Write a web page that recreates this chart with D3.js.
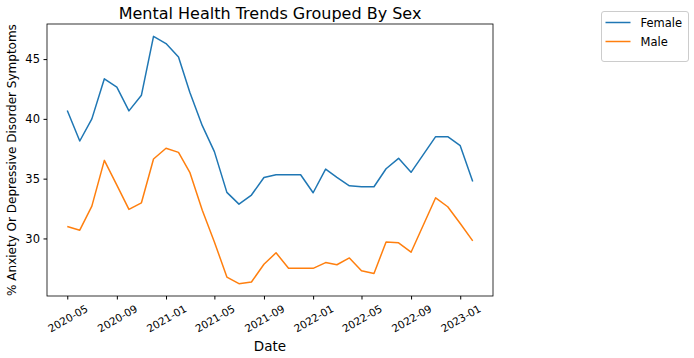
<!DOCTYPE html>
<html>
<head>
<meta charset="utf-8">
<script src="https://cdn.jsdelivr.net/npm/d3@7"></script>
<style>
  body { margin: 0; background: #fff; }
  text { font-family: "DejaVu Sans", sans-serif; fill: #000; }
</style>
</head>
<body>
<div class="canvas"></div>
<script>
// monthly survey points (Oct 2022 missing in the source)
const dates = [
  '2020-05-01', '2020-06-01', '2020-07-01', '2020-08-01', '2020-09-01', '2020-10-01',
  '2020-11-01', '2020-12-01', '2021-01-01', '2021-02-01', '2021-03-01', '2021-04-01',
  '2021-05-01', '2021-06-01', '2021-07-01', '2021-08-01', '2021-09-01', '2021-10-01',
  '2021-11-01', '2021-12-01', '2022-01-01', '2022-02-01', '2022-03-01', '2022-04-01',
  '2022-05-01', '2022-06-01', '2022-07-01', '2022-08-01', '2022-09-01', '2022-11-01',
  '2022-12-01', '2023-01-01', '2023-02-01'
];

const female = [
  40.7, 38.15, 40.0, 43.35, 42.65, 40.67, 41.98, 46.9, 46.3, 45.17, 42.23, 39.43,
  37.26, 33.85, 32.87, 33.63, 35.1, 35.33, 35.33, 35.33, 33.82, 35.8, 35.1, 34.4,
  34.32, 34.32, 35.83, 36.7, 35.53, 38.51, 38.51, 37.76, 34.77
];

const male = [
  31.0, 30.69, 32.7, 36.53, 34.46, 32.43, 32.98, 36.64, 37.54, 37.2, 35.53, 32.35,
  29.71, 26.77, 26.22, 26.36, 27.84, 28.8, 27.5, 27.5, 27.5, 27.98, 27.8, 28.37,
  27.3, 27.06, 29.71, 29.63, 28.85, 33.4, 32.65, 31.25, 29.8
];

const seriesNames = ['Female', 'Male'];
const colors = ['#1f77b4', '#ff7f0e'];
const yTicks = [30, 35, 40, 45];
const xTicks = ['2020-05-01', '2020-09-01', '2021-01-01', '2021-05-01', '2021-09-01',
  '2022-01-01', '2022-05-01', '2022-09-01', '2023-01-01'];

const parse = d3.timeParse('%Y-%m-%d');
const series = [female, male].map((vals, i) => ({
  name: seriesNames[i],
  color: colors[i],
  points: vals.map((v, j) => ({ date: parse(dates[j]), value: v }))
}));

const width = 694, height = 358;
const margin = { top: 24, right: 201, bottom: 62, left: 47 };
const innerW = width - margin.left - margin.right;
const innerH = height - margin.top - margin.bottom;

const svg = d3.select('.canvas').append('svg').attr('width', width).attr('height', height);

// domains padded by 5% like matplotlib
const tExt = d3.extent(dates, parse);
const tPad = (tExt[1] - tExt[0]) * 0.05;
const allVals = female.concat(male);
const vExt = d3.extent(allVals);
const vPad = (vExt[1] - vExt[0]) * 0.05;

const x = d3.scaleTime()
  .domain([new Date(+tExt[0] - tPad), new Date(+tExt[1] + tPad)])
  .range([0, innerW]);
const y = d3.scaleLinear()
  .domain([vExt[0] - vPad, vExt[1] + vPad])
  .range([innerH, 0]);

const g = svg.append('g').attr('transform', `translate(${margin.left},${margin.top})`);

// lines
const line = d3.line().x(d => x(d.date)).y(d => y(d.value));
series.forEach(s => {
  g.append('path')
    .datum(s.points)
    .attr('fill', 'none')
    .attr('stroke', s.color)
    .attr('stroke-width', 1.5)
    .attr('stroke-linejoin', 'round')
    .attr('d', line);
});

// y axis
const yAxis = g.append('g')
  .call(d3.axisLeft(y).tickValues(yTicks).tickSize(3.5).tickPadding(3.5).tickFormat(d3.format('d')));
yAxis.select('.domain').remove();
yAxis.selectAll('text').style('font-size', '11.5px');

// x axis
const xAxis = g.append('g')
  .attr('transform', `translate(0,${innerH})`)
  .call(d3.axisBottom(x).tickValues(xTicks.map(parse)).tickSize(3.5).tickFormat(d3.timeFormat('%Y-%m')));
xAxis.select('.domain').remove();
xAxis.selectAll('text')
  .style('font-size', '10.5px')
  .attr('text-anchor', 'middle')
  .attr('dy', null)
  .attr('y', 0)
  .attr('dominant-baseline', 'central')
  .attr('transform', function () {
    const w = this.getComputedTextLength();
    const h = 10.5 * 0.95;
    const bh = w * 0.5 + h * 0.866;
    return `translate(0,${7 + bh / 2}) rotate(-30)`;
  });

// frame
g.append('rect')
  .attr('width', innerW)
  .attr('height', innerH)
  .attr('fill', 'none')
  .attr('stroke', '#000')
  .attr('stroke-width', 0.8);

// titles
svg.append('text')
  .attr('x', margin.left + innerW / 2)
  .attr('y', 19)
  .attr('text-anchor', 'middle')
  .style('font-size', '16px')
  .text('Mental Health Trends Grouped By Sex');

svg.append('text')
  .attr('x', margin.left + innerW / 2)
  .attr('y', 351)
  .attr('text-anchor', 'middle')
  .style('font-size', '13.5px')
  .text('Date');

svg.append('text')
  .attr('transform', `translate(16,${margin.top + innerH / 2}) rotate(-90)`)
  .attr('text-anchor', 'middle')
  .style('font-size', '12px')
  .text('% Anxiety Or Depressive Disorder Symptoms');

// legend
const legend = svg.append('g').attr('transform', 'translate(601.5,11.5)');
legend.append('rect')
  .attr('width', 87)
  .attr('height', 50)
  .attr('rx', 2.5)
  .attr('fill', '#fff')
  .attr('stroke', '#cccccc')
  .attr('stroke-width', 1);

series.forEach((s, i) => {
  const row = legend.append('g').attr('transform', `translate(0,${11 + i * 19})`);
  row.append('line')
    .attr('x1', 4).attr('x2', 29)
    .attr('stroke', s.color)
    .attr('stroke-width', 1.5);
  row.append('text')
    .attr('x', 39)
    .attr('dy', '0.36em')
    .style('font-size', '11.5px')
    .text(s.name);
});
</script>
</body>
</html>
